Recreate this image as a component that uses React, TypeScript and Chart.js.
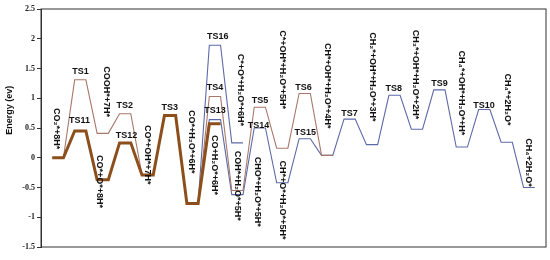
import React, { useEffect, useRef } from "react";
import { Chart, registerables } from "chart.js";

Chart.register(...registerables);

// State indices along the reaction coordinate
const thinSteps = [0, 1, 2, 3, 4, 5, 6, 7, 8, 9, 10, 11, 12];
const thinEnergy = [0, 1.31, 0.41, 0.74, -0.29, 0.71, -0.77, 1.03, -0.55, 0.85, 0.16, 1.08, 0.04];

const thickSteps = [0, 1, 2, 3, 4, 5, 6, 7];
const thickEnergy = [0, 0.45, -0.37, 0.25, -0.29, 0.71, -0.77, 0.57];

const blueSteps = [6, 7, 8, 9, 10, 11, 12, 13, 14, 15, 16, 17, 18, 19, 20, 21];
const blueEnergy = [-0.77, 0.64, -0.62, 0.5, -0.42, 0.32, 0.04, 0.65, 0.22, 1.05, 0.48, 1.14, 0.18, 0.81, 0.26, -0.5];

const branchSteps = [6, 7, 8];
const branchEnergy = [-0.77, 1.89, 0.25];

const yTicksMin = -1.5;
const yTicksMax = 2.5;
const yTickStep = 0.5;

// Transition-state labels (text, centre x, centre y in data units)
const tsLabels: [string, number, number][] = [
  ["TS1", 1.26, 1.45],
  ["TS11", 1.22, 0.62],
  ["TS2", 3.23, 0.88],
  ["TS12", 3.31, 0.37],
  ["TS3", 5.24, 0.85],
  ["TS16", 7.37, 2.04],
  ["TS4", 7.25, 1.18],
  ["TS13", 7.25, 0.8],
  ["TS5", 9.26, 0.96],
  ["TS14", 9.19, 0.54],
  ["TS6", 11.2, 1.18],
  ["TS15", 11.27, 0.43],
  ["TS7", 13.25, 0.74],
  ["TS8", 15.22, 1.17],
  ["TS9", 17.26, 1.24],
  ["TS10", 19.24, 0.88],
];

// Intermediate labels, drawn rotated (text, centre x, centre y in data units)
const stateLabels: [string, number, number][] = [
  ["CO₂*+8H*", 0.19, 0.49],
  ["COOH*+7H*", 2.43, 1.11],
  ["CO*+O*+8H*", 2.11, -0.4],
  ["CO*+OH*+7H*", 4.26, 0.05],
  ["CO*+H₂O*+6H*", 6.22, 0.27],
  ["CO+H₂O*+6H*", 7.25, -0.12],
  ["C*+O*+H₂O*+6H*", 8.37, 1.14],
  ["COH*+H₂O*+5H*", 8.24, -0.47],
  ["CHO*+H₂O*+5H*", 9.13, -0.57],
  ["C*+OH*+H₂O*+5H*", 10.24, 1.48],
  ["CH*+O*+H₂O*+5H*", 10.24, -0.71],
  ["CH*+OH*+H₂O*+4H*", 12.26, 1.21],
  ["CH₂*+OH*+H₂O*+3H*", 14.27, 1.36],
  ["CH₃*+OH*+H₂O*+2H*", 16.19, 1.4],
  ["CH₄*+OH*+H₂O*+H*", 18.24, 1.09],
  ["CH₄*+2H₂O*", 20.3, 0.98],
  ["CH₄+2H₂O*", 21.24, -0.08],
];

const PLATEAU = 0.5;

function profile(steps: number[], energy: number[]) {
  const pts: { x: number; y: number }[] = [];
  steps.forEach((s, i) => {
    pts.push({ x: s, y: energy[i] });
    pts.push({ x: s + PLATEAU, y: energy[i] });
  });
  return pts;
}

const LABEL_FONT = "bold 9px 'Liberation Sans', 'DejaVu Sans', Arial, sans-serif";

const labelPlugin = {
  id: "labels",
  afterDatasetsDraw(chart: any) {
    const { ctx, chartArea, scales } = chart;
    const xs = scales.x;
    const ys = scales.y;
    ctx.save();
    // frame
    ctx.strokeStyle = "#333";
    ctx.lineWidth = 1;
    ctx.strokeRect(chartArea.left, chartArea.top, chartArea.right - chartArea.left, chartArea.bottom - chartArea.top);
    ctx.fillStyle = "#111";
    ctx.font = LABEL_FONT;
    ctx.textAlign = "center";
    ctx.textBaseline = "middle";
    tsLabels.forEach(([t, x, y]) => {
      ctx.fillText(t, xs.getPixelForValue(x), ys.getPixelForValue(y));
    });
    stateLabels.forEach(([t, x, y]) => {
      ctx.save();
      ctx.translate(xs.getPixelForValue(x), ys.getPixelForValue(y));
      ctx.rotate(Math.PI / 2);
      ctx.fillText(t, 0, 0);
      ctx.restore();
    });
    // axis title
    ctx.save();
    ctx.font = "bold 9px 'Liberation Sans', 'DejaVu Sans', Arial, sans-serif";
    ctx.translate(10, ys.getPixelForValue(0.8));
    ctx.rotate(-Math.PI / 2);
    ctx.fillText("Energy (ev)", 0, 0);
    ctx.restore();
    ctx.restore();
  },
};

export default function App() {
  const ref = useRef<HTMLCanvasElement | null>(null);
  useEffect(() => {
    document.body.style.margin = "0";
    if (!ref.current) return;
    const thin = 1.1;
    const chart = new Chart(ref.current, {
      type: "line",
      data: {
        datasets: [
          {
            data: profile(thickSteps, thickEnergy),
            borderColor: "#8c4f1c",
            borderWidth: 3,
            pointRadius: 0,
            tension: 0,
          },
          {
            data: profile(thinSteps, thinEnergy),
            borderColor: "#a8786a",
            borderWidth: thin,
            pointRadius: 0,
            tension: 0,
          },
          {
            data: profile(branchSteps, branchEnergy),
            borderColor: "#5e6aa8",
            borderWidth: thin,
            pointRadius: 0,
            tension: 0,
          },
          {
            data: profile(blueSteps, blueEnergy),
            borderColor: "#5e6aa8",
            borderWidth: thin,
            pointRadius: 0,
            tension: 0,
          },
        ],
      },
      options: {
        animation: false,
        responsive: false,
        maintainAspectRatio: false,
        events: [],
        layout: { padding: { left: 0, top: 9, right: 4, bottom: 13 } },
        plugins: { legend: { display: false }, tooltip: { enabled: false } },
        scales: {
          x: { type: "linear", min: -0.5, max: 22, display: false },
          y: {
            min: yTicksMin,
            max: yTicksMax,
            afterFit: (s: any) => {
              s.width = 41;
            },
            grid: { display: true, drawOnChartArea: false, drawTicks: true, tickLength: 4, color: "#333" },
            border: { display: true, color: "#333" },
            ticks: {
              stepSize: yTickStep,
              padding: 2,
              color: "#222",
              callback: (v: any) => String(Number(v)),
              font: { family: "'Liberation Serif', 'DejaVu Serif', serif", size: 8, weight: "bold" },
            },
          },
        },
      },
      plugins: [labelPlugin],
    });
    return () => chart.destroy();
  }, []);
  return <canvas ref={ref} width={550} height={260} style={{ display: "block" }} />;
}
